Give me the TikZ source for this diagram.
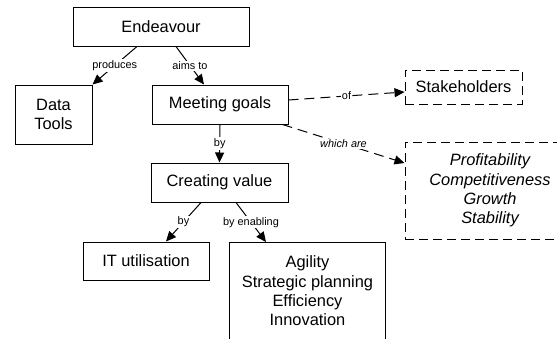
\documentclass[tikz,border=0pt]{standalone}
\usepackage{fontspec}
\setmainfont{Liberation Sans}
\usetikzlibrary{arrows.meta,calc}
\begin{document}
\begin{tikzpicture}[x=1pt,y=-1pt,
  box/.style={draw=black, line width=1pt, rectangle, inner sep=0pt, align=center,
    font=\fontsize{16.4}{19.3}\selectfont},
  dbox/.style={box, dash pattern=on 9pt off 5pt},
  conn/.style={line width=1pt, -{Triangle[length=10pt,width=9pt]}},
  dconn/.style={conn, dash pattern=on 10pt off 6pt},
  lbl/.style={fill=white, inner sep=1pt, font=\fontsize{10.9}{12}\selectfont},
  ilbl/.style={lbl, font=\fontsize{10.9}{12}\selectfont\itshape}]
\useasboundingbox (0,0) rectangle (557,338);
\clip (0,0) rectangle (557,338);
\fill[white] (0,0) rectangle (557,338);

\node[box, minimum width=176pt, minimum height=39pt] (end) at (161,26.5) {Endeavour};
\node[box, minimum width=77pt, minimum height=59pt] (data) at (53.5,114.5) {Data\\Tools};
\node[box, minimum width=136pt, minimum height=39pt] (goals) at (220,104.5) {Meeting goals};
\node[box, minimum width=137pt, minimum height=39pt] (value) at (219.5,182.5) {Creating value};
\node[box, minimum width=126pt, minimum height=38pt] (it) at (146,261) {IT utilisation};
\node[box, minimum width=156pt, minimum height=97pt] (agil) at (307.5,291) {Agility\\Strategic planning\\Efficiency\\Innovation};
\node[dbox, minimum width=117pt, minimum height=34pt] (stake) at (463.5,87) {Stakeholders};
\node[dbox, minimum width=170pt, minimum height=97pt, font=\fontsize{16.4}{19.3}\selectfont\itshape] (prof) at (490,190.5) {Profitability\\Competitiveness\\Growth\\Stability};

\draw[conn] ($(end.south)+(-24,0)$) -- node[lbl]{produces} (data.north east);
\draw[conn] ($(end.south)+(15,0)$) -- node[lbl]{aims to} ($(goals.north)+(-16,0)$);
\draw[conn] (goals.south) -- node[lbl]{by} (value.north);
\draw[conn] ($(value.south)+(-18.5,0)$) -- node[lbl]{by} ($(it.north)+(20,0)$);
\draw[conn] ($(value.south)+(16.5,0)$) -- node[lbl]{by enabling} ($(agil.north)+(-41.5,0)$);
\draw[dconn] ($(goals.east)+(0,-4.5)$) -- node[lbl]{of} ($(stake.west)+(0,5)$);
\draw[dconn] ($(goals.south east)+(-6,0)$) -- node[ilbl]{which are} ($(prof.west)+(0,-27.5)$);
\end{tikzpicture}
\end{document}
